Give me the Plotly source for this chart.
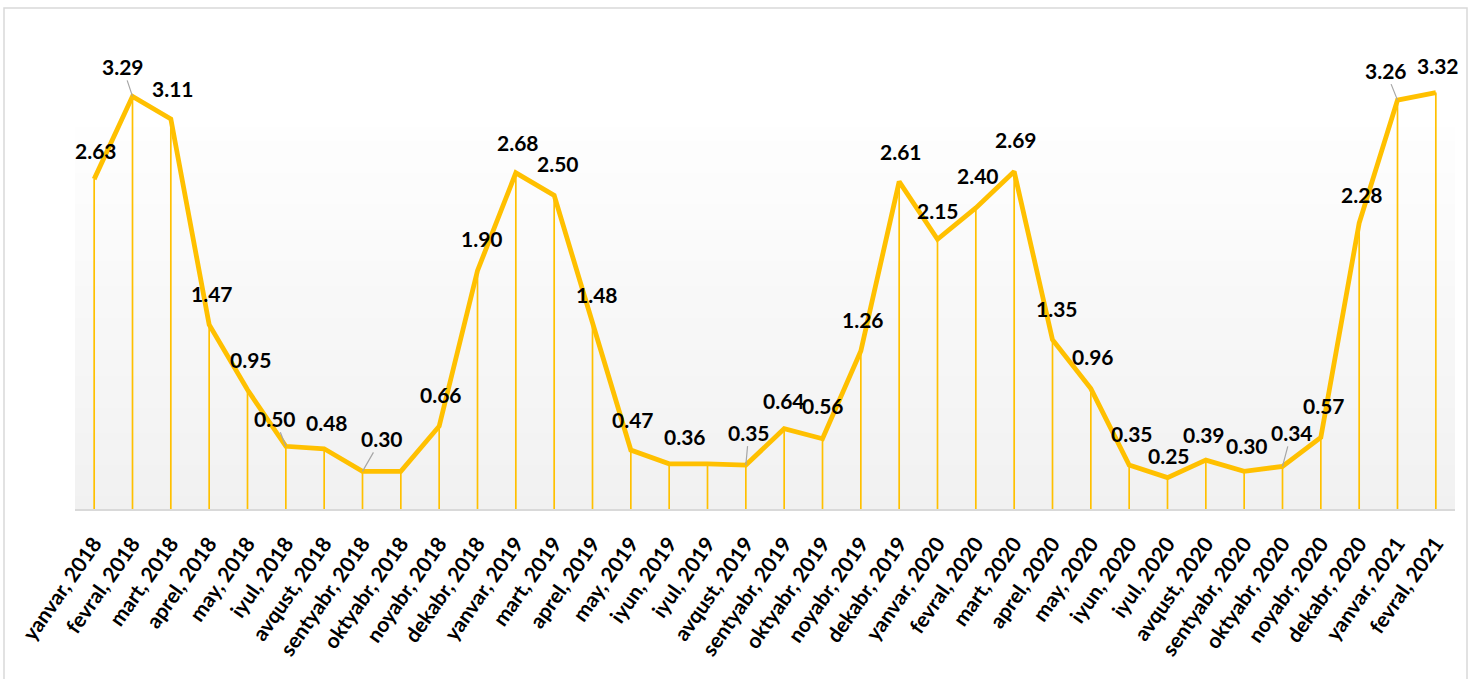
import plotly.graph_objects as go

categories = [
    "yanvar, 2018", "fevral, 2018", "mart, 2018", "aprel, 2018", "may, 2018",
    "iyul, 2018", "avqust, 2018", "sentyabr, 2018", "oktyabr, 2018", "noyabr, 2018",
    "dekabr, 2018", "yanvar, 2019", "mart, 2019", "aprel, 2019", "may, 2019",
    "iyun, 2019", "iyul, 2019", "avqust, 2019", "sentyabr, 2019", "oktyabr, 2019",
    "noyabr, 2019", "dekabr, 2019", "yanvar, 2020", "fevral, 2020", "mart, 2020",
    "aprel, 2020", "may, 2020", "iyun, 2020", "iyul, 2020", "avqust, 2020",
    "sentyabr, 2020", "oktyabr, 2020", "noyabr, 2020", "dekabr, 2020",
    "yanvar, 2021", "fevral, 2021",
]

values = [
    2.63, 3.29, 3.11, 1.47, 0.95, 0.50, 0.48, 0.30, 0.30, 0.66,
    1.90, 2.68, 2.50, 1.48, 0.47, 0.36, 0.36, 0.35, 0.64, 0.56,
    1.26, 2.61, 2.15, 2.40, 2.69, 1.35, 0.96, 0.35, 0.25, 0.39,
    0.30, 0.34, 0.57, 2.28, 3.26, 3.32,
]

# data labels shown (None = no label on that point)
labels = [
    "2.63", "3.29", "3.11", "1.47", "0.95", "0.50", "0.48", "0.30", None, "0.66",
    "1.90", "2.68", "2.50", "1.48", "0.47", "0.36", None, "0.35", "0.64", "0.56",
    "1.26", "2.61", "2.15", "2.40", "2.69", "1.35", "0.96", "0.35", "0.25", "0.39",
    "0.30", "0.34", "0.57", "2.28", "3.26", "3.32",
]

# label placement offsets in screen pixels (style only)
label_dx = [2, -10, 2, 3, 3, -11, 3, 19, 0, 2,
            4, 2, 4, 4, 2, 16, 0, 3, 0, 0,
            2, 2, 0, 2, 2, 4, 2, 3, 1, -2,
            3, 9, 3, 3, -12, 2]
label_dy = [-29, -30, -30, -31, -30, -28, -26, -33, 0, -32,
            -32, -30, -32, -29, -31, -27, 0, -33, -28, -33,
            -31, -30, -29, -32, -32, -31, -32, -32, -22, -26,
            -26, -34, -32, -29, -30, -27]
leader = [False, True, False, False, False, True, False, True, False, False,
          False, False, False, False, False, False, False, True, False, False,
          False, False, False, False, False, False, False, False, False, False,
          False, True, False, False, True, False]

GOLD = "#FFC000"
FONT = "Lato"

fig = go.Figure()

# gradient plot-area background (stripes)
n_str = 60
top_frac = (509 - 128) / 439.0
for i in range(n_str):
    f0 = top_frac * i / n_str
    f1 = top_frac * (i + 1) / n_str
    t = 1 - (f0 + f1) / 2 / top_frac  # 0 at top, 1 at bottom
    c = int(round(254 - 13 * t))
    fig.add_shape(type="rect", xref="paper", yref="paper", x0=0, x1=1,
                  y0=f0, y1=f1 + 0.002, line=dict(width=0),
                  fillcolor=f"rgb({c},{c},{c})", layer="below")

# outer chart border
fig.add_shape(type="rect", xref="paper", yref="paper",
              xsizemode="pixel", ysizemode="pixel", xanchor=0, yanchor=0,
              x0=-71, x1=1392, y0=-190, y1=501,
              line=dict(color="#d9d9d9", width=1.5), fillcolor="rgba(0,0,0,0)",
              layer="below")

# drop lines
dx, dy = [], []
for c, v in zip(categories, values):
    dx += [c, c, None]
    dy += [0, v, None]
fig.add_trace(go.Scatter(x=dx, y=dy, mode="lines",
                         line=dict(color=GOLD, width=1.7),
                         hoverinfo="skip", showlegend=False))

# main line
fig.add_trace(go.Scatter(x=categories, y=values, mode="lines",
                         line=dict(color=GOLD, width=4.8),
                         showlegend=False))

for i, (c, v, lab) in enumerate(zip(categories, values, labels)):
    if lab is None:
        continue
    if leader[i]:
        fig.add_annotation(x=c, y=v, text=lab, showarrow=True,
                           ax=label_dx[i], ay=label_dy[i], arrowhead=0,
                           arrowwidth=1.2, arrowcolor="#a6a6a6", standoff=0,
                           font=dict(family=FONT, size=21, color="black", weight="bold"))
    else:
        fig.add_annotation(x=c, y=v, text=lab, showarrow=False,
                           xshift=label_dx[i], yshift=-label_dy[i],
                           font=dict(family=FONT, size=21, color="black", weight="bold"))

fig.update_layout(
    width=1476, height=679,
    margin=dict(l=75, r=21, t=70, b=170, autoexpand=False),
    paper_bgcolor="white", plot_bgcolor="white",
    xaxis=dict(type="category", range=[-0.5, 35.5], showgrid=False,
               showline=True, linecolor="#d9d9d9", linewidth=2,
               ticks="", tickangle=-55, automargin=False, ticklabelstandoff=12,
               tickfont=dict(family=FONT, size=21, color="black", weight="bold")),
    yaxis=dict(range=[0, 3.5], visible=False, showgrid=False, zeroline=False,
               automargin=False),
)

fig.write_html("out.html", config={"displayModeBar": False},
               post_script="document.body.style.margin='0';")
